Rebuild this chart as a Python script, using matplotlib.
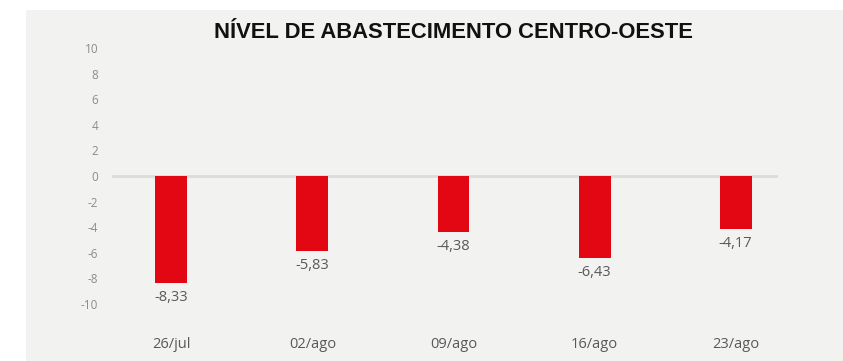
import matplotlib.pyplot as plt
from matplotlib.patches import Rectangle

# Dados do gráfico
semanas = ['26/jul', '02/ago', '09/ago', '16/ago', '23/ago']
nivel = [-8.33, -5.83, -4.38, -6.43, -4.17]
y_ticks = [10, 8, 6, 4, 2, 0, -2, -4, -6, -8, -10]

titulo = 'NÍVEL DE ABASTECIMENTO CENTRO-OESTE'
cor_barra = '#e30613'
cor_fundo = '#f2f2f1'

fig = plt.figure(figsize=(8.43, 3.61), dpi=100)
fig.patch.set_facecolor('white')

# Painel cinza atrás do gráfico
fig.patches.append(Rectangle((26 / 843, 0), 1 - 26 / 843, 1 - 10 / 361,
                             transform=fig.transFigure, facecolor=cor_fundo,
                             edgecolor='none', zorder=-5))

ax = fig.add_axes([112 / 843, 1 - 304 / 361, 666 / 843, 256 / 361])
ax.set_facecolor('none')
ax.set_zorder(2)

x = list(range(len(semanas)))
ax.bar(x, nivel, width=0.226, color=cor_barra, zorder=3)
ax.axhline(0, color='#dcdcdc', linewidth=2, zorder=2)

# Rótulos de valor abaixo das barras
for xi, v in zip(x, nivel):
    ax.annotate(f'{v:.2f}'.replace('.', ','), (xi, v), xytext=(0, -5),
                textcoords='offset points', ha='center', va='top',
                fontsize=10.5, color='#595959', family='Open Sans')

ax.set_xlim(-0.42, 4.30)
ax.set_ylim(-10, 10)
ax.set_yticks(y_ticks)
ax.set_yticklabels([str(t) for t in y_ticks], family='Open Sans',
                   fontsize=8.5, color='#8c8c8c')
ax.set_xticks(x)
ax.set_xticklabels(semanas, family='Open Sans', fontsize=10.5, color='#595959')
ax.tick_params(axis='y', length=0, pad=10)
ax.tick_params(axis='x', length=0, pad=24)
for s in ax.spines.values():
    s.set_visible(False)

fig.text(453 / 843, 1 - 32 / 361, titulo, ha='center', va='center',
         fontsize=15.8, fontweight='bold', family='Liberation Sans', color='#111111')

fig.savefig('out.png', dpi=100, facecolor=fig.get_facecolor())
